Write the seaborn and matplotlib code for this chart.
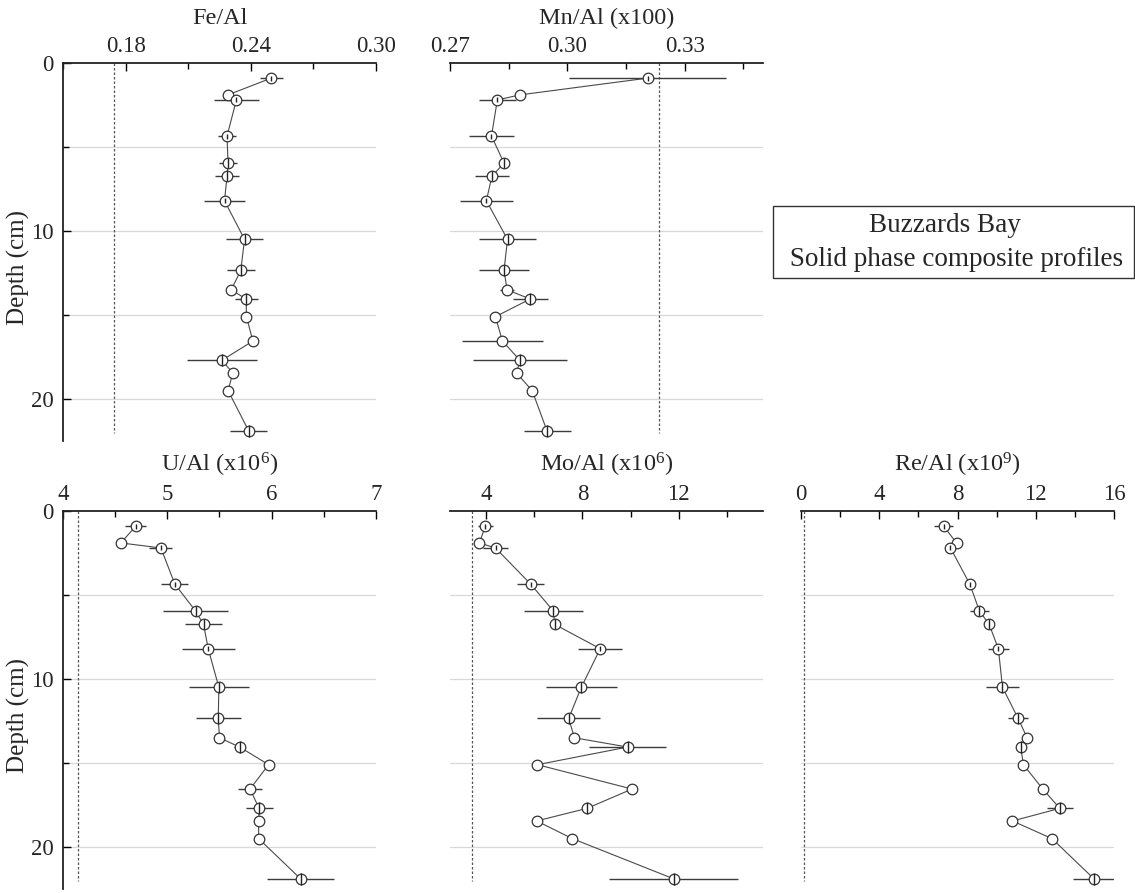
import matplotlib
matplotlib.use("Agg")
import matplotlib.pyplot as plt
import seaborn as sns
import pandas as pd
from matplotlib.ticker import FixedLocator, FormatStrFormatter
from matplotlib.patches import Rectangle

# ---------------- data ----------------
depth = [0.9, 1.9, 2.2, 4.35, 5.95, 6.75, 8.2, 10.5, 12.35, 13.5, 14.05,
         15.1, 16.55, 17.7, 18.45, 19.5, 21.9]
depth_err = [0.15, 0, 0.15, 0.15, 0.3, 0.3, 0.15, 0.35, 0.35, 0, 0.35,
             0, 0, 0.35, 0, 0, 0.35]

fe = [0.2498, 0.2290, 0.2331, 0.2286, 0.2291, 0.2286, 0.2274, 0.2370, 0.2352,
      0.2306, 0.2378, 0.2379, 0.2410, 0.2261, 0.2314, 0.2291, 0.2390]
fe_err = [0.0054, 0, 0.0107, 0.0042, 0.0042, 0.0058, 0.0098, 0.0090, 0.0066,
          0.0015, 0.0055, 0, 0, 0.0168, 0, 0, 0.0089]
fe_ref = 0.1745

mn = [0.3205, 0.2878, 0.2821, 0.2806, 0.2838, 0.2807, 0.2793, 0.2847, 0.2838,
      0.2846, 0.2905, 0.2816, 0.2834, 0.2879, 0.2870, 0.2910, 0.2948]
mn_err = [0.0201, 0, 0.0048, 0.0058, 0.0005, 0.0044, 0.0068, 0.0073, 0.0064,
          0.0018, 0.0045, 0, 0.0104, 0.0120, 0, 0, 0.0060]
mn_ref = 0.3233

u = [4.698, 4.554, 4.938, 5.072, 5.270, 5.347, 5.392, 5.494, 5.488, 5.500,
     5.693, 5.971, 5.792, 5.880, 5.875, 5.875, 6.278]
u_err = [0.10, 0, 0.109, 0.13, 0.314, 0.173, 0.256, 0.288, 0.218, 0,
         0.055, 0, 0.115, 0.13, 0, 0, 0.32]
u_ref = 4.14

mo = [3.97, 3.72, 4.39, 5.85, 6.79, 6.85, 8.74, 7.95, 7.43, 7.67, 9.88,
      6.13, 10.06, 8.19, 6.10, 7.58, 11.80]
mo_err = [0.30, 0, 0.50, 0.57, 1.22, 0.15, 0.92, 1.48, 1.32, 0, 1.60,
          0, 0, 0.15, 0, 0, 2.68]
mo_ref = 3.42

re = [7.29, 7.95, 7.64, 8.63, 9.12, 9.62, 10.09, 10.30, 11.10, 11.56, 11.23,
      11.37, 12.36, 13.23, 10.81, 12.83, 14.98]
re_err = [0.49, 0, 0.26, 0.10, 0.50, 0.10, 0.55, 0.82, 0.51, 0, 0.10,
          0, 0.12, 0.66, 0, 0, 1.09]
re_ref = 0.15

titles = ["Fe/Al", "Mn/Al (x100)", r"U/Al (x10$^{6}$)",
          r"Mo/Al (x10$^{6}$)", r"Re/Al (x10$^{9}$)"]
box_lines = ["Buzzards Bay", " Solid phase composite profiles"]

# ---------------- style ----------------
sns.set_theme(style="white")
plt.rcParams["font.family"] = ["Liberation Serif", "DejaVu Serif"]
plt.rcParams["mathtext.fontset"] = "custom"
plt.rcParams["mathtext.rm"] = "Liberation Serif"
plt.rcParams["mathtext.it"] = "Liberation Serif:italic"
plt.rcParams["mathtext.bf"] = "Liberation Serif:bold"

W, H = 1135, 893
fig = plt.figure(figsize=(W / 100, H / 100), dpi=100)
fig.patch.set_facecolor("white")


def rect_px(left, top, right, bottom):
    return [left / W, (H - bottom) / H, (right - left) / W, (bottom - top) / H]


panels = [
    dict(v=fe, e=fe_err, ref=fe_ref, title=titles[0], xlim=(0.15, 0.30),
         major=[0.18, 0.24, 0.30], minor=[0.15, 0.21, 0.27], fmt="%.2f",
         rect=rect_px(63, 63, 376, 441), left=True),
    dict(v=mn, e=mn_err, ref=mn_ref, title=titles[1], xlim=(0.27, 0.35),
         major=[0.27, 0.30, 0.33], minor=[0.285, 0.315, 0.345], fmt="%.2f",
         rect=rect_px(450, 63, 763, 441), left=False),
    dict(v=u, e=u_err, ref=u_ref, title=titles[2], xlim=(4, 7),
         major=[4, 5, 6, 7], minor=[4.5, 5.5, 6.5], fmt="%d",
         rect=rect_px(63, 511, 376, 889), left=True),
    dict(v=mo, e=mo_err, ref=mo_ref, title=titles[3], xlim=(2.5, 15.5),
         major=[4, 8, 12], minor=[6, 10, 14], fmt="%d",
         rect=rect_px(450, 511, 763, 889), left=False),
    dict(v=re, e=re_err, ref=re_ref, title=titles[4], xlim=(0, 16),
         major=[0, 4, 8, 12, 16], minor=[2, 6, 10, 14], fmt="%d",
         rect=rect_px(801, 511, 1114, 889), left=False),
]

line_col = "#4a4a4a"
for p in panels:
    ax = fig.add_axes(p["rect"])
    ax.set_facecolor("white")
    df = pd.DataFrame({"x": p["v"], "depth": depth})
    # horizontal grid
    for g in [5, 10, 15, 20]:
        ax.axhline(g, color="#d8d8d8", lw=0.9, zorder=0)
    # reference (dotted) line
    ax.vlines(p["ref"], 0, 22.0, colors="#555555", linestyles=(0, (2, 1.6)),
              lw=0.9, zorder=1)
    # connecting line
    sns.lineplot(data=df, x="x", y="depth", sort=False, estimator=None,
                 orient="y", color=line_col, lw=0.8, ax=ax, zorder=2)
    # horizontal error bars
    ax.errorbar(p["v"], depth, xerr=p["e"], fmt="none", ecolor="#3c3c3c",
                elinewidth=1.0, capsize=0, zorder=3)
    # open markers
    sns.scatterplot(data=df, x="x", y="depth", marker="o", s=58,
                    facecolor="white", edgecolor="#333333", linewidth=0.9,
                    ax=ax, zorder=4)
    # small vertical (depth) bars inside markers
    ax.errorbar(p["v"], depth, yerr=depth_err, fmt="none", ecolor="#222222",
                elinewidth=1.0, capsize=0, zorder=5)

    ax.set_xlim(*p["xlim"])
    ax.set_ylim(22.5, 0)
    ax.xaxis.set_major_locator(FixedLocator(p["major"]))
    ax.xaxis.set_minor_locator(FixedLocator(p["minor"]))
    ax.xaxis.set_major_formatter(FormatStrFormatter(p["fmt"]))
    ax.xaxis.tick_top()
    ax.xaxis.set_label_position("top")
    ax.set_xlabel(p["title"], fontsize=17.5, labelpad=9)
    ax.tick_params(axis="x", which="both", direction="in", top=True,
                   bottom=False, labeltop=True, labelbottom=False,
                   color="black", width=1.0, labelsize=16.5, pad=4)
    ax.tick_params(axis="x", which="major", length=5.5)
    ax.tick_params(axis="x", which="minor", length=4.5)

    for s in ["right", "bottom"]:
        ax.spines[s].set_visible(False)
    ax.spines["top"].set_color("#222222")
    ax.spines["top"].set_linewidth(1.3)
    if p["left"]:
        ax.spines["left"].set_color("#222222")
        ax.spines["left"].set_linewidth(1.3)
        ax.yaxis.set_major_locator(FixedLocator([0, 10, 20]))
        ax.yaxis.set_minor_locator(FixedLocator([5, 15]))
        ax.tick_params(axis="y", which="both", direction="in", left=True,
                       labelleft=True, color="black", width=1.0,
                       labelsize=16.5, pad=7)
        ax.tick_params(axis="y", which="major", length=5.5)
        ax.tick_params(axis="y", which="minor", length=4.5)
        ax.set_ylabel("Depth (cm)", fontsize=18)
        ax.yaxis.set_label_coords(-0.105, 0.46)
    else:
        ax.spines["left"].set_visible(False)
        ax.set_ylabel("")
        ax.tick_params(axis="y", which="both", left=False, labelleft=False)

# annotation box
fig.patches.append(Rectangle((773 / W, (H - 278) / H), 361 / W, 72 / H,
                             transform=fig.transFigure, fill=False,
                             edgecolor="#333333", lw=1.0))
fig.text(945 / W, (H - 226) / H, box_lines[0], ha="center", va="center",
         fontsize=19.5)
fig.text(953 / W, (H - 260) / H, box_lines[1], ha="center", va="center",
         fontsize=19.5)

fig.savefig("out.png", dpi=100, facecolor="white")
